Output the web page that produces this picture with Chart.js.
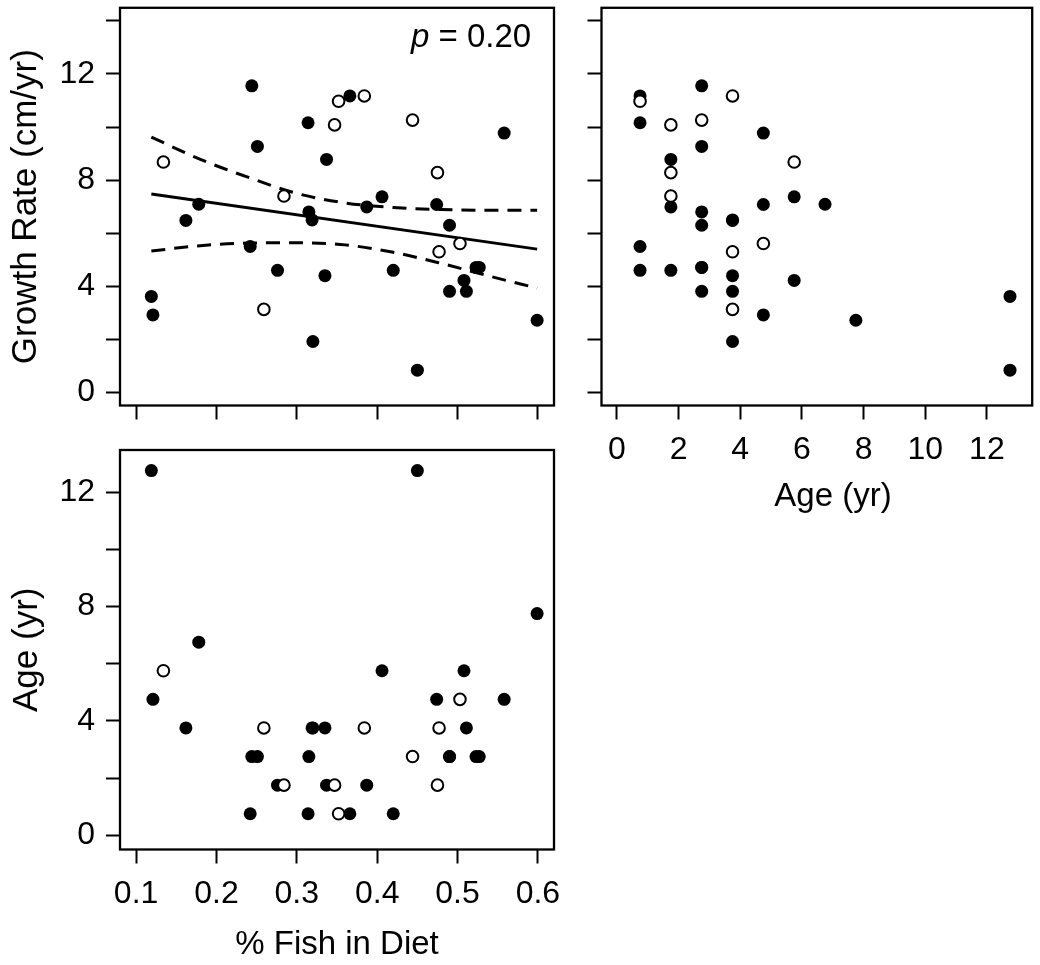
<!DOCTYPE html>
<html>
<head>
<meta charset="utf-8">
<script src="https://cdn.jsdelivr.net/npm/chart.js@4.4.1/dist/chart.umd.min.js"></script>
<style>
  html, body { margin: 0; padding: 0; background: #fff; }
  body { width: 1040px; height: 965px; position: relative; overflow: hidden; font-family: "Liberation Sans", Arial, sans-serif; }
  canvas { position: absolute; }
  #pval { position: absolute; left: 411px; top: 19px; font-size: 33px; line-height: 33px; color: #000; white-space: nowrap; }
  #ageTitle { position: absolute; left: 733px; width: 200px; top: 478px; text-align: center; font-size: 33px; line-height: 34px; color: #000; }
</style>
</head>
<body>
<canvas id="growthFish" width="580" height="440" style="left:0;top:0"></canvas>
<canvas id="growthAge" width="460" height="520" style="left:580px;top:0"></canvas>
<canvas id="ageFish" width="580" height="535" style="left:0;top:430px"></canvas>
<div id="pval"><i>p</i> = 0.20</div>
<div id="ageTitle">Age (yr)</div>
<script>
// one entry per fish: % fish in diet, growth rate (cm/yr), age (yr), open symbol (1) or filled (0)
const fishPct = [0.119, 0.450, 0.599, 0.178, 0.406, 0.508, 0.121, 0.474, 0.558, 0.162,
                 0.319, 0.320, 0.335, 0.511, 0.244, 0.251, 0.315, 0.490, 0.490, 0.523,
                 0.527, 0.276, 0.337, 0.387, 0.242, 0.314, 0.366, 0.420,
                 0.134, 0.503, 0.259, 0.384, 0.477, 0.444, 0.284, 0.347, 0.475, 0.352];
const growthRate = [3.62, 0.84, 2.72, 7.09, 7.37, 4.22, 2.92, 7.08, 9.77, 6.48,
                    6.50, 1.92, 4.40, 3.81, 11.55, 9.27, 6.80, 6.30, 3.81, 4.71,
                    4.71, 4.60, 8.78, 6.99, 5.50, 10.16, 11.17, 4.60,
                    8.68, 5.61, 3.13, 11.17, 5.30, 10.26, 7.40, 10.08, 8.28, 10.97];
const ageYr = [12.75, 12.75, 7.75, 6.75, 5.75, 5.75, 4.75, 4.75, 4.75, 3.75,
               3.75, 3.75, 3.75, 3.75, 2.75, 2.75, 2.75, 2.75, 2.75, 2.75,
               2.75, 1.75, 1.75, 1.75, 0.75, 0.75, 0.75, 0.75,
               5.75, 4.75, 3.75, 3.75, 3.75, 2.75, 1.75, 1.75, 1.75, 0.75];
const hollow = [0,0,0,0,0,0,0,0,0,0, 0,0,0,0,0,0,0,0,0,0, 0,0,0,0,0,0,0,0,
                1,1,1,1,1,1,1,1,1,1];

// fitted line and dashed band
const fitX = [0.119, 0.599];
const fitY = [7.48, 5.40];
const bandX = [0.119, 0.18, 0.24, 0.30, 0.36, 0.42, 0.48, 0.54, 0.599];
const bandUpper = [9.62, 8.78, 8.10, 7.50, 7.14, 6.97, 6.89, 6.86, 6.86];
const bandLower = [5.33, 5.53, 5.63, 5.64, 5.56, 5.28, 4.86, 4.38, 3.93];

// ticks
const fishTicks = [0.1, 0.2, 0.3, 0.4, 0.5, 0.6];
const growthTicks = [0, 2, 4, 6, 8, 10, 12, 14];
const growthLabels = [0, 4, 8, 12];
const ageTicks = [0, 2, 4, 6, 8, 10, 12];
const ageLabels = [0, 4, 8, 12];

Chart.defaults.font.family = '"Liberation Sans", Arial, sans-serif';
Chart.defaults.color = '#000';

const TICK_FONT = { size: 32 };

// box round the plot area
const boxPlugin = {
  id: 'box',
  afterDraw(chart) {
    const { ctx, chartArea: a } = chart;
    ctx.save();
    ctx.strokeStyle = '#000';
    ctx.lineWidth = 2.3;
    ctx.strokeRect(a.left, a.top, a.right - a.left, a.bottom - a.top);
    ctx.restore();
  }
};

function pairs(xs, ys, wantOpen) {
  return xs.map((x, i) => ({ x: x, y: ys[i] })).filter((p, i) => hollow[i] === wantOpen);
}

function pointSets(xs, ys) {
  return [
    { data: pairs(xs, ys, 1), pointRadius: 5.8, pointBorderWidth: 2,
      pointBackgroundColor: '#fff', pointBorderColor: '#000', showLine: false },
    { data: pairs(xs, ys, 0), pointRadius: 6.5, pointBorderWidth: 0,
      pointBackgroundColor: '#000', pointBorderColor: '#000', showLine: false }
  ];
}

function axis(pos, min, max, tickVals, labelVals, size, title, titleSize, titlePad) {
  return {
    type: 'linear',
    position: pos,
    min: min,
    max: max,
    afterBuildTicks: s => { s.ticks = tickVals.map(v => ({ value: v })); },
    afterFit: s => {
      if (pos === 'left') s.width = size; else s.height = size;
      s.paddingTop = 0; s.paddingBottom = 0; s.paddingLeft = 0; s.paddingRight = 0;
    },
    grid: { drawOnChartArea: false, drawTicks: true, tickLength: 14, tickWidth: 2, tickColor: '#000' },
    border: { display: false },
    ticks: {
      autoSkip: false, maxRotation: 0, padding: 11, font: TICK_FONT, color: '#000',
      callback: v => labelVals.includes(v) ? String(v) : ''
    },
    title: title
      ? { display: true, text: title, font: { size: titleSize }, color: '#000', padding: titlePad }
      : { display: false }
  };
}

function baseOptions(pad, scales) {
  return {
    responsive: false,
    animation: false,
    events: [],
    layout: { padding: pad },
    plugins: { legend: { display: false }, tooltip: { enabled: false } },
    scales: scales
  };
}

// top left: growth vs % fish
new Chart(document.getElementById('growthFish'), {
  type: 'scatter',
  data: {
    datasets: pointSets(fishPct, growthRate).concat([
      { data: fitX.map((x, i) => ({ x: x, y: fitY[i] })), showLine: true, pointRadius: 0,
        borderColor: '#000', borderWidth: 3 },
      { data: bandX.map((x, i) => ({ x: x, y: bandUpper[i] })), showLine: true, pointRadius: 0,
        borderColor: '#000', borderWidth: 3, borderDash: [14, 9], cubicInterpolationMode: 'monotone' },
      { data: bandX.map((x, i) => ({ x: x, y: bandLower[i] })), showLine: true, pointRadius: 0,
        borderColor: '#000', borderWidth: 3, borderDash: [14, 9], cubicInterpolationMode: 'monotone' }
    ])
  },
  options: baseOptions({ left: 0, top: 5, right: 26, bottom: 0 }, {
    x: axis('bottom', 0.08, 0.62, fishTicks, [], 34.5),
    y: axis('left', -0.49, 14.49, growthTicks, growthLabels, 120, 'Growth Rate (cm/yr)', 35, { top: 5 })
  }),
  plugins: [boxPlugin]
});

// top right: growth vs age (axis title set in the page)
new Chart(document.getElementById('growthAge'), {
  type: 'scatter',
  data: { datasets: pointSets(ageYr, growthRate) },
  options: baseOptions({ left: 0, top: 5, right: 6.5, bottom: 0 }, {
    x: axis('bottom', -0.5, 13.47, ageTicks, ageTicks, 114.5),
    y: axis('left', -0.49, 14.49, growthTicks, [], 21.5)
  }),
  plugins: [boxPlugin]
});

// bottom left: age vs % fish
new Chart(document.getElementById('ageFish'), {
  type: 'scatter',
  data: { datasets: pointSets(fishPct, ageYr) },
  options: baseOptions({ left: 0, top: 20, right: 26, bottom: 0 }, {
    x: axis('bottom', 0.08, 0.62, fishTicks, fishTicks, 115.5, '% Fish in Diet', 33, { bottom: 0.2 }),
    y: axis('left', -0.5, 13.47, ageTicks, ageLabels, 120, 'Age (yr)', 35, { top: 6 })
  }),
  plugins: [boxPlugin]
});
</script>
</body>
</html>
